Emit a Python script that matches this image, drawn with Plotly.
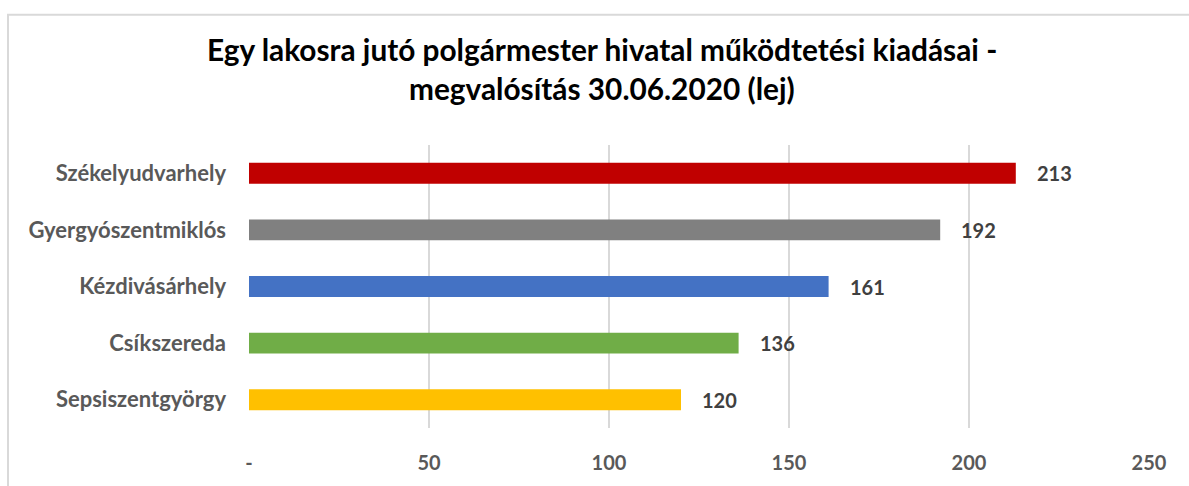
import plotly.graph_objects as go

categories = ["Székelyudvarhely", "Gyergyószentmiklós", "Kézdivásárhely", "Csíkszereda", "Sepsiszentgyörgy"]
values = [213, 192, 161, 136, 120]
colors = ["#C00000", "#808080", "#4472C4", "#70AD47", "#FFC000"]
tick_vals = [0, 50, 100, 150, 200, 250]
tick_text = ["-", "50", "100", "150", "200", "250"]
title_lines = ["Egy lakosra jutó polgármester hivatal működtetési kiadásai -",
               "megvalósítás 30.06.2020 (lej)"]

FONT = "Lato"
W, H = 1189, 486
L, R, T, B = 249, 40, 145, 54
PH = H - T - B

fig = go.Figure()
fig.add_trace(go.Bar(
    x=values, y=[f"<b>{c}</b>" for c in categories], orientation="h",
    marker=dict(color=colors, line=dict(width=0)),
    width=0.37, hoverinfo="x+y",
))

for c, v in zip(categories, values):
    fig.add_annotation(x=v, y=f"<b>{c}</b>", text=f"<b>{v}</b>", showarrow=False,
                       xanchor="left", xshift=19,
                       font=dict(family=FONT, size=20, color="#404040"))

for line, py in zip(title_lines, [48, 88]):
    fig.add_annotation(xref="paper", yref="paper", x=0.392, y=(H - B - py) / PH,
                       text=f"<b>{line}</b>", showarrow=False,
                       xanchor="center", yanchor="middle",
                       font=dict(family=FONT, size=29.8, color="#000000"))

fig.update_layout(
    width=W, height=H,
    margin=dict(l=L, r=R, t=T, b=B),
    paper_bgcolor="white", plot_bgcolor="white",
    showlegend=False,
    xaxis=dict(range=[0, 250], tickvals=tick_vals,
               ticktext=[f"<b>{t}</b>" for t in tick_text],
               showgrid=True, gridcolor="#D9D9D9", gridwidth=2,
               zeroline=False, showline=False, ticks="",
               tickfont=dict(family=FONT, size=20, color="#595959"),
               ticklabelstandoff=21),
    yaxis=dict(autorange="reversed", showgrid=False, ticks="",
               tickfont=dict(family=FONT, size=22, color="#595959"),
               ticklabelstandoff=22),
    bargap=0.63,
)

fig.add_shape(type="rect", xref="paper", yref="paper",
              x0=-(L - 8) / (W - L - R), x1=1.2, y0=-0.3, y1=(H - 13 - B) / PH,
              line=dict(color="#D9D9D9", width=2), fillcolor="rgba(0,0,0,0)",
              layer="below")

fig.write_html("out.html", config={"displayModeBar": False},
               post_script="document.body.style.margin='0';document.body.style.padding='0';")
